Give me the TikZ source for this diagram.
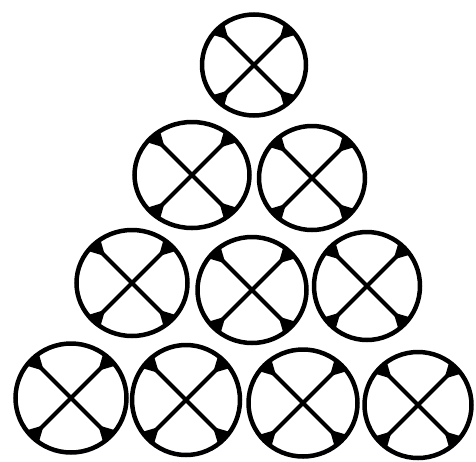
\documentclass[tikz,border=0pt]{standalone}
\usetikzlibrary{shapes.geometric,calc}
\tikzset{
  wheelshape/.style={ellipse,draw=black,line width=4.5pt,inner sep=0pt,outer sep=0pt},
  crossline/.style={line width=4pt,black}
}
\newcommand\mkwheel[5]{%
  \node[wheelshape,minimum width=#4pt,minimum height=#5pt] (#1) at (#2,#3) {};
  \foreach \a [evaluate=\a as \lo using int(\a-9), evaluate=\a as \hi using int(\a+9)] in {45,135,225,315}{
    \fill[black] ($(#1.center)!0.7!(#1.\a)$) -- (#1.\lo) -- (#1.\hi) -- cycle;
  }
  \draw[crossline] (#1.45) -- (#1.225) (#1.135) -- (#1.315);
}
\begin{document}
\begin{tikzpicture}[x=1pt,y=-1pt]
\useasboundingbox (0,0) rectangle (476,461);
\mkwheel{a}{254}{65}{104}{101}
\mkwheel{b1}{192}{175}{115}{106}
\mkwheel{b2}{312}{178}{106}{104}
\mkwheel{c1}{132}{283}{111}{106}
\mkwheel{c2}{252}{290}{109}{106}
\mkwheel{c3}{367}{286}{106}{108}
\mkwheel{d1}{71}{398}{111}{109}
\mkwheel{d2}{186}{400}{108}{110}
\mkwheel{d3}{303}{403}{109}{107}
\mkwheel{d4}{418}{405}{107}{106}
\end{tikzpicture}
\end{document}
